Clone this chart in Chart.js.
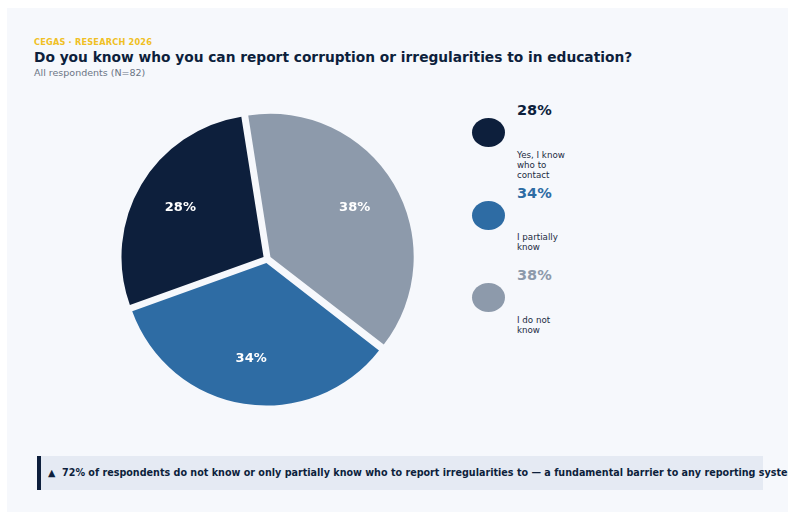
<!DOCTYPE html>
<html>
<head>
<meta charset="utf-8">
<script src="https://cdn.jsdelivr.net/npm/chart.js@4.4.1/dist/chart.umd.min.js"></script>
<style>
  html, body { margin: 0; padding: 0; width: 788px; height: 512px; overflow: hidden; background: #ffffff; font-family: "DejaVu Sans", sans-serif; }
  .panel { position: absolute; left: 7px; top: 8px; width: 800px; height: 520px; background: #f6f8fc; }
  .abs { position: absolute; white-space: nowrap; }
  #kicker { left: 34px; top: 37px; font-size: 8.2px; font-weight: bold; color: #f0c024; letter-spacing: 0.2px; }
  #title { left: 34px; top: 49px; font-size: 13.75px; font-weight: bold; color: #0d1f3c; }
  #subtitle { left: 34px; top: 67px; font-size: 9.5px; color: #6b7585; }
  #pieBox { position: absolute; left: 112px; top: 102px; width: 310px; height: 314px; }
  .dot { position: absolute; width: 33px; height: 29px; border-radius: 50%; }
  .pct { position: absolute; font-size: 14.5px; font-weight: bold; }
  .lab { position: absolute; font-size: 8.7px; line-height: 10.4px; color: #1b2a42; width: 70px; }
  #note { position: absolute; left: 37px; top: 456px; width: 722px; height: 34px; background: #e5eaf3; border-left: 4px solid #0d1f3c; }
  #noteText { left: 48px; top: 467px; font-size: 9.6px; font-weight: bold; color: #0d1f3c; }
</style>
</head>
<body>
<div class="panel"></div>
<div id="kicker" class="abs">CEGAS · RESEARCH 2026</div>
<div id="title" class="abs">Do you know who you can report corruption or irregularities to in education?</div>
<div id="subtitle" class="abs">All respondents (N=82)</div>
<div id="pieBox"><canvas id="pie"></canvas></div>
<div id="legend"></div>
<div id="note"></div>
<div id="noteText" class="abs">▲&nbsp; 72% of respondents do not know or only partially know who to report irregularities to — a fundamental barrier to any reporting system</div>

<script>
// Podaci
const categories = ["Yes, I know who to contact", "I partially know", "I do not know"];
const legendLines = [["Yes, I know", "who to", "contact"], ["I partially", "know"], ["I do not", "know"]];
const shares = [28, 34, 38];
const colors = ["#0d1f3c", "#2e6ca4", "#8d9aab"];

// legenda desno
const legend = document.getElementById("legend");
categories.forEach((cat, i) => {
  const y0 = 102 + i * 82.5;
  const dot = document.createElement("div");
  dot.className = "dot";
  dot.style.left = "472px";
  dot.style.top = (y0 + 16) + "px";
  dot.style.background = colors[i];
  legend.appendChild(dot);

  const pct = document.createElement("div");
  pct.className = "pct";
  pct.style.left = "517px";
  pct.style.top = y0 + "px";
  pct.style.color = colors[i];
  pct.textContent = shares[i] + "%";
  legend.appendChild(pct);

  const lab = document.createElement("div");
  lab.className = "lab";
  lab.style.left = "517px";
  lab.style.top = (y0 + 47.5) + "px";
  lab.innerHTML = legendLines[i].join("<br>");
  legend.appendChild(lab);
});

// pita se crta u smjeru kazaljke, pa obrnemo redoslijed
const order = [2, 1, 0];
const OFFSET = 16;

// koliko Chart.js stvarno pomakne isjecak (offset/4 * (1 + fix))
function shiftOf(arc) {
  const circ = arc.endAngle - arc.startAngle;
  const fix = 1 - Math.sin(Math.min(Math.PI, circ));
  return (arc.options.offset || 0) / 4 * (1 + fix);
}

const sliceLabels = {
  id: "sliceLabels",
  afterDatasetsDraw(chart) {
    const ctx = chart.ctx;
    const meta = chart.getDatasetMeta(0);
    ctx.save();
    ctx.font = "bold 13px 'DejaVu Sans'";
    ctx.fillStyle = "#ffffff";
    ctx.textAlign = "center";
    ctx.textBaseline = "middle";
    meta.data.forEach((arc, i) => {
      const mid = (arc.startAngle + arc.endAngle) / 2;
      const r = arc.outerRadius * 0.68 + shiftOf(arc);
      ctx.fillText(chart.data.datasets[0].data[i] + "%", arc.x + Math.cos(mid) * r, arc.y + Math.sin(mid) * r);
    });
    ctx.restore();
  }
};

new Chart(document.getElementById("pie"), {
  type: "pie",
  data: {
    labels: order.map(i => categories[i]),
    datasets: [{
      data: order.map(i => shares[i]),
      backgroundColor: order.map(i => colors[i]),
      borderWidth: 0,
      offset: OFFSET,
      hoverOffset: 0,
    }],
  },
  options: {
    responsive: true,
    maintainAspectRatio: false,
    animation: false,
    rotation: -9,
    radius: 142,
    layout: { padding: 0 },
    plugins: { legend: { display: false }, tooltip: { enabled: false } },
  },
  plugins: [sliceLabels],
});
</script>
</body>
</html>
